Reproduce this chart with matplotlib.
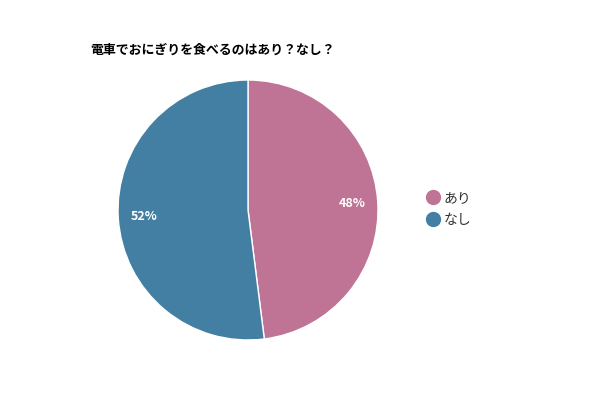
import matplotlib
matplotlib.use("Agg")
import matplotlib.pyplot as plt
from matplotlib.lines import Line2D

plt.rcParams['font.family'] = ['Noto Sans CJK JP', 'DejaVu Sans']

title = "電車でおにぎりを食べるのはあり？なし？"
labels = ["あり", "なし"]
values = [48, 52]
colors = ["#C07495", "#427FA3"]

fig = plt.figure(figsize=(6, 4), dpi=100)
fig.patch.set_facecolor("white")
ax = fig.add_axes([0.1967, 0.15, 0.4333, 0.65])
wedges, texts, autotexts = ax.pie(
    values, colors=colors, startangle=90, counterclock=False,
    autopct=lambda p: f"{p:.0f}%", pctdistance=0.8,
    wedgeprops=dict(edgecolor="white", linewidth=1),
    textprops=dict(color="white", fontsize=9, fontweight="bold"))
ax.set_aspect("equal")
ax.set_xlim(-1, 1)
ax.set_ylim(-1, 1)

fig.text(90/600, 1 - 50/400, title, fontsize=9.3, fontweight="bold",
         ha="left", va="center", color="#000000")

handles = [Line2D([0], [0], marker="o", linestyle="", markersize=10,
                  markerfacecolor=c, markeredgecolor=c) for c in colors]
fig.legend(handles, labels, loc="center left", bbox_to_anchor=(412/600, 1 - 209/400),
           frameon=False, fontsize=10, handletextpad=0.2, labelspacing=0.55,
           handlelength=1.2, labelcolor="#333333")

fig.savefig("out.png", dpi=100)
